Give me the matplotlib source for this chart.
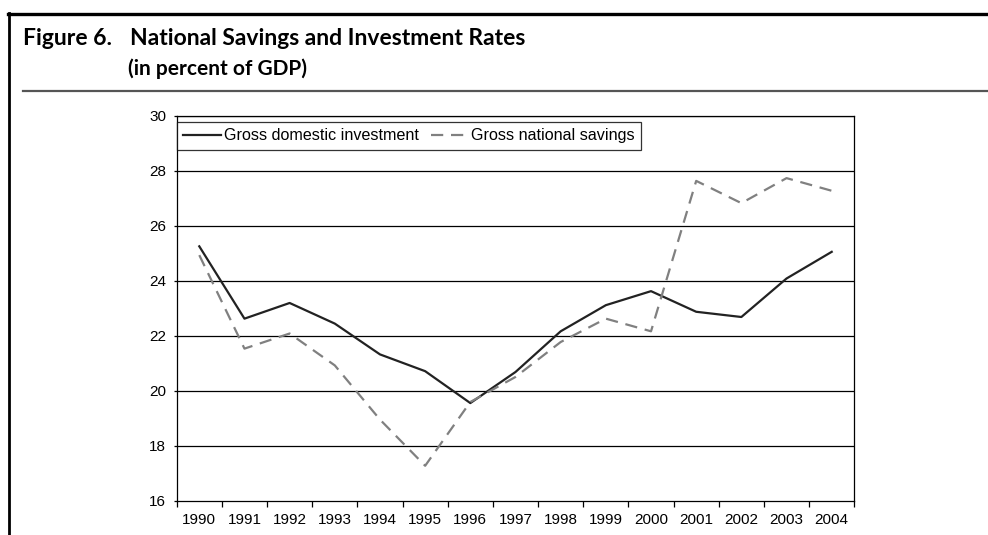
"""
Figure 6. National savings and investment rates, 1990-2004 (percent of GDP).
"""

import matplotlib
matplotlib.use("Agg")
import matplotlib.pyplot as plt
from matplotlib.lines import Line2D
import numpy as np

YEARS = [str(y) for y in range(1990, 2005)]
INVESTMENT = [25.25, 22.62, 23.19, 22.44, 21.32, 20.71, 19.55, 20.68,
              22.16, 23.11, 23.62, 22.87, 22.68, 24.08, 25.05]
SAVINGS = [24.93, 21.53, 22.08, 20.92, 18.95, 17.27, 19.59, 20.50,
           21.77, 22.62, 22.16, 27.63, 26.82, 27.73, 27.27]
Y_TICKS = [16, 18, 20, 22, 24, 26, 28, 30]

W, H = 988, 535
TICK_FONT = "Liberation Sans"
TITLE_FONT = "Lato"


def fx(px):
    return px / W


def fy(py):
    return 1 - py / H


fig = plt.figure(figsize=(W / 100, H / 100), dpi=100)

# page frame and title block
fig.add_artist(Line2D([fx(8), 1], [fy(13.5), fy(13.5)], color="black", lw=2.4))
fig.add_artist(Line2D([fx(9), fx(9)], [fy(12.5), 0], color="black", lw=2.0))
fig.add_artist(Line2D([fx(23), 1], [fy(91), fy(91)], color="#555555", lw=1.6))

fig.text(fx(23), fy(45), "Figure 6.", family=TITLE_FONT, weight="bold",
         fontsize=16.5, va="baseline", ha="left")
fig.text(fx(130), fy(45), "National Savings and Investment Rates", family=TITLE_FONT,
         weight="bold", fontsize=16.5, va="baseline", ha="left")
fig.text(fx(128), fy(75), "(in percent of GDP)", family=TITLE_FONT, weight="bold",
         fontsize=15, va="baseline", ha="left")

# chart
left, right, top, bottom = 176.7, 854.3, 115.7, 500.7
ax = fig.add_axes([fx(left), fy(bottom), (right - left) / W, (bottom - top) / H])

x = np.arange(len(YEARS))
ax.plot(x, INVESTMENT, color="#222222", lw=1.6, label="Gross domestic investment", zorder=3)
ax.plot(x, SAVINGS, color="#808080", lw=1.6, dashes=(5.5, 3.5),
        label="Gross national savings", zorder=3)

ax.set_xlim(-0.5, len(YEARS) - 0.5)
ax.set_ylim(16, 30)
ax.set_yticks(Y_TICKS)
ax.set_yticklabels([str(t) for t in Y_TICKS], family=TICK_FONT, fontsize=11)
ax.set_xticks(x)
ax.set_xticklabels(YEARS, family=TICK_FONT, fontsize=11)
ax.set_xticks(np.arange(-0.5, len(YEARS)), minor=True)
ax.tick_params(axis="x", which="major", length=0, pad=9)
ax.tick_params(axis="x", which="minor", length=4.3, width=0.9, direction="out")
ax.tick_params(axis="y", length=2.5, width=0.9, direction="out", pad=5)

for t in Y_TICKS[1:]:
    ax.axhline(t, color="black", lw=0.9, zorder=1)
for s in ax.spines.values():
    s.set_color("black")
    s.set_linewidth(0.9)

leg = ax.legend(loc="upper left", bbox_to_anchor=(fx(177), fy(121.7)),
                bbox_transform=fig.transFigure, ncol=2, frameon=True, fancybox=False,
                borderaxespad=0, borderpad=0.4, handlelength=2.3, handletextpad=0.2,
                columnspacing=0.75, prop={"family": TICK_FONT, "size": 11.6})
leg.get_frame().set_edgecolor("black")
leg.get_frame().set_linewidth(0.9)

fig.savefig("out.png", dpi=100)
